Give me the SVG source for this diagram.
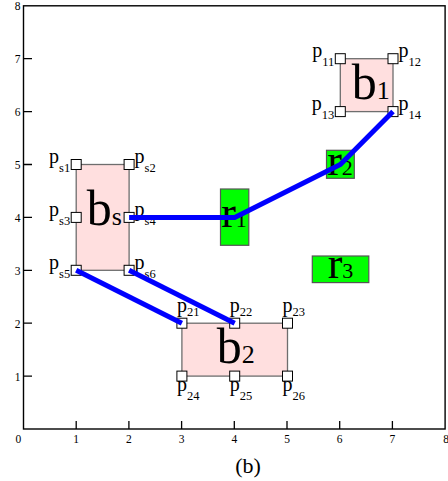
<svg xmlns="http://www.w3.org/2000/svg" width="448" height="481" viewBox="0 0 448 481">
<style>
text{font-family:"Liberation Serif","Times New Roman",serif;fill:#000}
.tick{font-size:11.5px}
.frame{fill:none;stroke:#000;stroke-width:1.4}
.tk{stroke:#000;stroke-width:1.3}
.blk{fill:#ffdfdf;stroke:#6e6e6e;stroke-width:1.3}
.reg{fill:#00ff00;stroke:#555;stroke-width:1.2}
.pt{fill:#fff;stroke:#000;stroke-width:1}
.big{font-size:50px}
.bsub{font-size:26px}
.rbig{font-size:44px}
.rsub{font-size:22px}
.pl{font-size:20px}
.ps{font-size:12.5px}
.edge{fill:none;stroke:#0000ff;stroke-width:5;stroke-linejoin:round}
</style>
<rect width="448" height="481" fill="#fff"/>
<g id="axes">
<rect class="frame" x="23.5" y="5.8" width="421.6" height="423.2"/>
<path class="tk" d="M76.2,429V421M128.9,429V421M181.6,429V421M234.3,429V421M287,429V421M339.7,429V421M392.4,429V421M23.5,58.7H32M23.5,111.6H32M23.5,164.5H32M23.5,217.4H32M23.5,270.3H32M23.5,323.2H32M23.5,376.1H32"/>
<g class="tick" text-anchor="middle">
<text x="18.3" y="443">0</text><text x="76.2" y="443">1</text><text x="128.9" y="443">2</text><text x="181.6" y="443">3</text><text x="234.3" y="443">4</text><text x="287" y="443">5</text><text x="339.7" y="443">6</text><text x="392.4" y="443">7</text><text x="446" y="443">8</text>
</g>
<g class="tick" text-anchor="end">
<text x="20.5" y="10.3">8</text><text x="20.5" y="63.2">7</text><text x="20.5" y="116.1">6</text><text x="20.5" y="169">5</text><text x="20.5" y="221.9">4</text><text x="20.5" y="274.8">3</text><text x="20.5" y="327.7">2</text><text x="20.5" y="380.6">1</text>
</g>
<text x="248" y="473" font-size="22" text-anchor="middle">(b)</text>
</g>
<g id="bs">
<rect class="blk" x="76.2" y="164.5" width="52.9" height="105.8"/>
<text x="86.7" y="225" class="big">b<tspan class="bsub">s</tspan></text>
<rect class="pt" x="71.2" y="159.5" width="10" height="10"/>
<rect class="pt" x="124.1" y="159.5" width="10" height="10"/>
<rect class="pt" x="71.2" y="212.4" width="10" height="10"/>
<rect class="pt" x="124.1" y="212.4" width="10" height="10"/>
<rect class="pt" x="71.2" y="265.3" width="10" height="10"/>
<rect class="pt" x="124.1" y="265.3" width="10" height="10"/>
<text class="pl" x="70.2" y="163" text-anchor="end">p<tspan class="ps" dy="9">s1</tspan></text>
<text class="pl" x="134.6" y="163">p<tspan class="ps" dy="9">s2</tspan></text>
<text class="pl" x="70.2" y="215.9" text-anchor="end">p<tspan class="ps" dy="9">s3</tspan></text>
<text class="pl" x="134.6" y="215.9">p<tspan class="ps" dy="9">s4</tspan></text>
<text class="pl" x="70.2" y="268.8" text-anchor="end">p<tspan class="ps" dy="9">s5</tspan></text>
<text class="pl" x="134.6" y="268.8">p<tspan class="ps" dy="9">s6</tspan></text>
</g>
<g id="b1">
<rect class="blk" x="340.3" y="58.7" width="52.7" height="52.9"/>
<text x="351.7" y="99" class="big">b<tspan class="bsub">1</tspan></text>
<rect class="pt" x="335.3" y="53.7" width="10" height="10"/>
<rect class="pt" x="388" y="53.7" width="10" height="10"/>
<rect class="pt" x="335.3" y="106.6" width="10" height="10"/>
<rect class="pt" x="388" y="106.6" width="10" height="10"/>
<text class="pl" x="334.3" y="57.2" text-anchor="end">p<tspan class="ps" dy="9">11</tspan></text>
<text class="pl" x="398.5" y="57.2">p<tspan class="ps" dy="9">12</tspan></text>
<text class="pl" x="334.3" y="110.1" text-anchor="end">p<tspan class="ps" dy="9">13</tspan></text>
<text class="pl" x="398.5" y="110.1">p<tspan class="ps" dy="9">14</tspan></text>
</g>
<g id="b2">
<rect class="blk" x="181.9" y="323.2" width="105.6" height="52.9"/>
<text x="216.7" y="363.3" class="big">b<tspan class="bsub">2</tspan></text>
<rect class="pt" x="176.9" y="318.2" width="10" height="10"/>
<rect class="pt" x="229.7" y="318.2" width="10" height="10"/>
<rect class="pt" x="282.5" y="318.2" width="10" height="10"/>
<rect class="pt" x="176.9" y="371.1" width="10" height="10"/>
<rect class="pt" x="229.7" y="371.1" width="10" height="10"/>
<rect class="pt" x="282.5" y="371.1" width="10" height="10"/>
<text class="pl" x="176.9" y="312">p<tspan class="ps" dy="4">21</tspan></text>
<text class="pl" x="229.7" y="312">p<tspan class="ps" dy="4">22</tspan></text>
<text class="pl" x="282.5" y="312">p<tspan class="ps" dy="4">23</tspan></text>
<text class="pl" x="176.9" y="391">p<tspan class="ps" dy="9">24</tspan></text>
<text class="pl" x="229.7" y="391">p<tspan class="ps" dy="9">25</tspan></text>
<text class="pl" x="282.5" y="391">p<tspan class="ps" dy="9">26</tspan></text>
</g>
<g id="r1">
<rect class="reg" x="220.5" y="189" width="28.3" height="56.3"/>
<text x="234" y="226.7" class="rbig" text-anchor="middle">r<tspan class="rsub">1</tspan></text>
</g>
<g id="r2">
<rect class="reg" x="326.5" y="150.3" width="27.8" height="28"/>
<text x="340" y="175" class="rbig" text-anchor="middle">r<tspan class="rsub">2</tspan></text>
</g>
<g id="r3">
<rect class="reg" x="312.3" y="256" width="56.5" height="26.6"/>
<text x="340.5" y="278.3" class="rbig" text-anchor="middle">r<tspan class="rsub">3</tspan></text>
</g>
<g id="connectors">
<polyline class="edge" points="129.1,217.4 234.7,217.4 340.3,164.5 393,111.6"/>
<line class="edge" x1="76.2" y1="270.3" x2="181.9" y2="323.2"/>
<line class="edge" x1="129.1" y1="270.3" x2="234.7" y2="323.2"/>
</g>
</svg>
